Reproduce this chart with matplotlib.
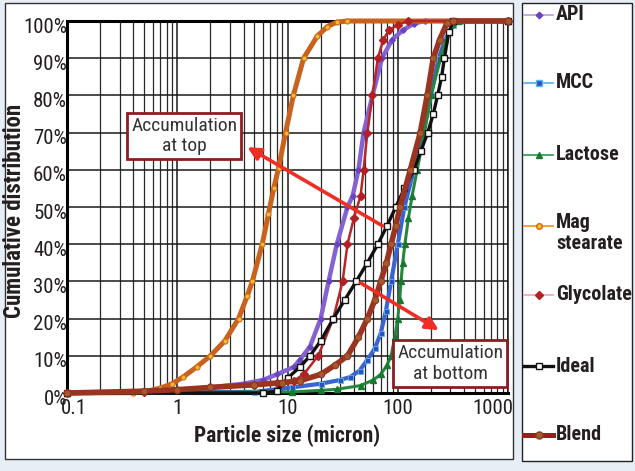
import numpy as np
import matplotlib
matplotlib.use('Agg')
import matplotlib.pyplot as plt
import matplotlib.transforms as mtransforms
from matplotlib.patches import Rectangle
from matplotlib.lines import Line2D
from matplotlib import font_manager

# use a narrow face if one is installed
avail = set(f.name for f in font_manager.fontManager.ttflist)
fam = [f for f in ['Liberation Sans Narrow', 'DejaVu Sans Condensed', 'Roboto Condensed', 'Roboto'] if f in avail]
plt.rcParams['font.family'] = fam + ['DejaVu Sans']

# particle size (micron) vs cumulative distribution (%)
api_x = [0.1, 0.5, 1, 2, 4, 6, 8, 11.4, 13, 16, 20, 23.6, 28, 35, 39, 44, 49, 59, 72, 89, 112, 140, 175, 300, 1000]
api_y = [0, 0.3, 0.8, 1.5, 2.5, 3.5, 5, 7, 9, 12.5, 20, 30, 40, 50, 53, 60, 70, 80, 90, 95, 97.6, 99.3, 100, 100, 100]

mcc_x = [0.1, 5, 11, 20, 30, 37, 45, 53, 62, 70, 78, 87, 100, 115, 140, 170, 200, 235, 270, 320, 370, 1000]
mcc_y = [0, 0.3, 1.5, 2.5, 3.5, 4.3, 6, 8.9, 12, 16, 22, 30, 40, 50, 60, 70, 80, 90, 95, 99, 100, 100]

lac_x = [0.1, 11, 20, 28, 46, 60, 70, 80, 87, 94, 100, 104, 107, 111, 116, 125, 135, 150, 175, 200, 245, 290, 355, 1000]
lac_y = [0, 0.3, 0.7, 1, 2, 3.5, 5, 7.5, 10, 15, 20, 25, 30, 35, 40, 47, 53, 60, 70, 80, 90, 97, 100, 100]

mag_x = [0.1, 0.4, 0.5, 0.7, 0.9, 1.13, 1.5, 2, 2.7, 3.6, 4.3, 4.8, 5.9, 6.7, 7.5, 8.3, 9.6, 11.3, 14, 18.7, 23, 28, 35, 1000]
mag_y = [0, 0.1, 0.3, 1.3, 2.5, 4.3, 7, 10, 14, 20, 26, 30, 40, 48, 55, 60.5, 70, 80, 90, 96, 98.5, 99.7, 100, 100]

gly_x = [0.1, 0.5, 1, 2, 5, 8, 11.4, 14, 19, 26, 31.6, 35, 40, 46, 49, 53, 59, 66, 74, 83, 100, 125, 1000]
gly_y = [0, 0.4, 0.8, 1.5, 2.2, 2.8, 3.3, 5, 10, 20, 30, 40, 47, 53, 60, 70, 80, 90, 95, 97.5, 99, 100, 100]

ideal_x = [0.1, 6, 8, 10, 13, 16, 20, 26, 33, 42, 53, 66, 80, 96, 115, 140, 162, 187, 210, 230, 250, 265, 290, 320, 1000]
ideal_y = [0, 0, 0.5, 4, 7, 10, 14, 20, 25, 30, 35, 40, 45, 50, 55, 60, 65, 70, 75, 80, 85, 90, 97, 100, 100]

blend_x = [0.1, 0.5, 1, 2, 5, 9, 13, 20, 27, 35, 44, 53, 62, 70, 79, 87, 96, 105, 130, 160, 185, 210, 240, 280, 320, 1000]
blend_y = [0, 0.5, 0.9, 1.5, 2.2, 2.8, 3.3, 5, 7.5, 10, 15, 20, 25, 30, 35, 40, 45, 50, 60, 70, 80, 90, 95, 99.5, 100, 100]

names = ['API', 'MCC', 'Lactose', 'Mag\nstearate', 'Glycolate', 'Ideal', 'Blend']

fig = plt.figure(figsize=(6.35, 4.71), dpi=100, facecolor='#e7eef6')

# white chart panel and legend panel
fig.patches.append(Rectangle((5/635, 1-459/471), 508/635, 456/471, transform=fig.transFigure,
                             facecolor='white', edgecolor='#333333', lw=1, zorder=-5))
fig.patches.append(Rectangle((522/635, 1-461/471), 110/635, 458/471, transform=fig.transFigure,
                             facecolor='white', edgecolor='#222222', lw=1, zorder=-5))

ax = fig.add_axes([67/635, 1-393/471, 441/635, 372/471])
ax.set_xscale('log')
ax.set_xlim(0.1, 1000)
ax.set_ylim(0, 100)

ax.grid(True, which='major', color='#1a1a1a', lw=1.1)
ax.grid(True, which='minor', axis='x', color='#2a2a2a', lw=0.9)
ax.set_axisbelow(True)
for s in ['left', 'bottom', 'top']:
    ax.spines[s].set_linewidth(2.2)
    ax.spines[s].set_color('black')
ax.spines['right'].set_linewidth(1.1)
ax.spines['right'].set_color('#1a1a1a')

# plot style, plus the thin line colour shown in the legend
styles = [
    dict(color='#8562d2', lw=3.2, marker='D', ms=2.8, mfc='#6a44c0', mec='#6a44c0'),
    dict(color='#3a64cf', lw=3.0, marker='s', ms=3.6, mfc='#2c4fc2', mec='#5ab8ea', mew=0.6),
    dict(color='#23883c', lw=2.2, marker='^', ms=4.2, mfc='#17782e', mec='#17782e'),
    dict(color='#c8621c', lw=3.6, marker='o', ms=3.6, mfc='#f6bd2c', mec='#cf6a1c', mew=0.8),
    dict(color='#b8262a', lw=1.8, marker='D', ms=3.6, mfc='#b02024', mec='#b02024'),
    dict(color='#111111', lw=2.4, marker='s', ms=4.4, mfc='white', mec='#111111', mew=1.0),
    dict(color='#9a3420', lw=4.0, marker='o', ms=4.6, mfc='#a8582e', mec='#8e3a1c', mew=0.8),
]
leg_colors = ['#b9a4e0', '#5ab8ea', '#3aa05a', '#f59a2a', '#f4a6c6', '#111111', '#9c1e1c']
leg_lw = [1.3, 1.3, 1.3, 1.3, 1.3, 2.4, 3.6]

series = [(api_x, api_y), (mcc_x, mcc_y), (lac_x, lac_y), (mag_x, mag_y),
          (gly_x, gly_y), (ideal_x, ideal_y), (blend_x, blend_y)]
for (sx, sy), st in zip(series, styles):
    ax.plot(sx, sy, clip_on=False, zorder=3, **st)

ax.set_xticks([0.1, 1, 10, 100, 1000])
ax.set_xticklabels(['0.1', '1', '10', '100', '1000'])
ax.set_yticks(np.arange(0, 101, 10))
ax.set_yticklabels([f'{v}%' for v in range(0, 101, 10)])
ax.tick_params(axis='both', which='both', length=0, labelsize=15, colors='#231f20')
ax.tick_params(axis='y', pad=0)
ax.tick_params(axis='x', pad=4)
ylab_off = mtransforms.ScaledTranslation(0, -3/72, fig.dpi_scale_trans)
for t in ax.get_yticklabels():
    t.set_transform(t.get_transform() + ylab_off)
xl = ax.get_xticklabels()
xl[0].set_transform(xl[0].get_transform() + mtransforms.ScaledTranslation(5/72, 0, fig.dpi_scale_trans))
xl[-1].set_transform(xl[-1].get_transform() + mtransforms.ScaledTranslation(-11/72, 0, fig.dpi_scale_trans))

ax.set_xlabel('Particle size (micron)', fontsize=15.5, fontweight='bold', color='#231f20', labelpad=5)
ax.set_ylabel('Cumulative distribution', fontsize=16.5, fontweight='bold', color='#231f20')
ax.yaxis.set_label_coords(-41/441, 0.49)

# annotations
box = dict(boxstyle='square,pad=0.2', fc='white', ec='#8b1e22', lw=2)
ax.text(1.16, 69.1, 'Accumulation\nat top', ha='center', va='center', fontsize=14,
        color='#333333', bbox=box, zorder=5, linespacing=1.2)
ax.text(300, 7.9, 'Accumulation\nat bottom', ha='center', va='center', fontsize=14,
        color='#333333', bbox=box, zorder=5, linespacing=1.2)
arr = dict(arrowstyle='-|>', color='#ee2e24', lw=2.6, mutation_scale=19, shrinkA=0, shrinkB=0)
ax.annotate('', xy=(4.33, 66.1), xytext=(73, 44.9), arrowprops=arr, zorder=6)
ax.annotate('', xy=(236, 16.9), xytext=(46, 29.6), arrowprops=arr, zorder=6)

# legend entries
leg_y = [15, 83, 155, 226, 295, 366, 435]
for name, st, lc, lw, ly in zip(names, styles, leg_colors, leg_lw, leg_y):
    yy = 1 - ly/471
    fig.add_artist(Line2D([524/635, 553/635], [yy, yy], transform=fig.transFigure,
                          color=lc, lw=lw))
    fig.add_artist(Line2D([539/635], [yy], transform=fig.transFigure, linestyle='none',
                          marker=st['marker'], ms=st['ms'] + 0.5, mfc=st['mfc'], mec=st['mec']))
    tr = fig.transFigure
    if '\n' in name:
        tr = tr + mtransforms.ScaledTranslation(0, 9.5/72, fig.dpi_scale_trans)
    fig.text(556/635, yy, name, ha='left', va='top' if '\n' in name else 'center',
             fontsize=14.5, fontweight='bold', color='#231f20', linespacing=1.15, transform=tr)

fig.savefig('out.png', dpi=100, facecolor=fig.get_facecolor())
